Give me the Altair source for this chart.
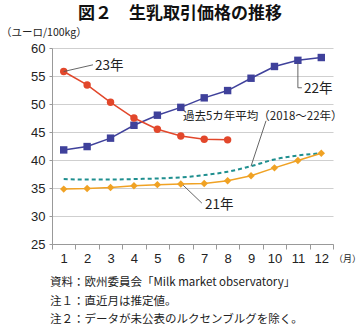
import altair as alt
import pandas as pd

months = list(range(1, 13))
y23 = [55.8, 53.4, 50.3, 47.5, 45.5, 44.3, 43.7, 43.6]
y22 = [41.8, 42.4, 43.9, 46.2, 48.0, 49.4, 51.1, 52.4, 54.6, 56.7, 57.8, 58.3]
y21 = [34.8, 34.9, 35.1, 35.4, 35.6, 35.7, 35.8, 36.3, 37.2, 38.6, 39.9, 41.2]
yavg = [36.6, 36.5, 36.5, 36.6, 36.7, 36.9, 37.3, 37.9, 38.9, 40.1, 40.8, 41.2]

FONT = "Liberation Sans, Noto Sans CJK JP, sans-serif"
JFONT = "Noto Sans CJK JP, Liberation Sans, sans-serif"

C23 = "#e2472b"
C22 = "#3f419b"
C21 = "#f0a224"
CAVG = "#1f8f8f"

W, H = 281, 196

df23 = pd.DataFrame({"m": months[:8], "v": y23})
df22 = pd.DataFrame({"m": months, "v": y22})
df21 = pd.DataFrame({"m": months, "v": y21})
dfavg = pd.DataFrame({"m": months, "v": yavg})

xscale = alt.Scale(domain=[0.5, 12.5], nice=False, zero=False)
yscale = alt.Scale(domain=[25, 60], nice=False, zero=False)

tick_vals = [i + 0.5 for i in range(0, 13)]
xaxis = alt.Axis(values=tick_vals, title=None, grid=False,
                 labelExpr="datum.value < 12 ? format(datum.value + 0.5, 'd') : ''",
                 labelOffset=W / 24, labelOverlap=False, labelFlush=False,
                 labelFont=FONT, labelFontSize=13, labelColor="#222",
                 tickColor="#999", tickSize=5, domainColor="#999", labelPadding=3)
yaxis = alt.Axis(values=[25, 30, 35, 40, 45, 50, 55, 60], title=None,
                 labelFont=FONT, labelFontSize=13, labelColor="#222",
                 gridColor="#cfcfcf", tickColor="#999", tickSize=3,
                 domainColor="#999", labelPadding=4)


def xs():
    return alt.X("m:Q", scale=xscale, axis=xaxis)


def ys():
    return alt.Y("v:Q", scale=yscale, axis=yaxis)


base = alt.Chart(dfavg).mark_line(color=CAVG, strokeDash=[4, 3], strokeWidth=2,
                                  interpolate="monotone").encode(x=xs(), y=ys())

l21 = alt.Chart(df21).mark_line(color=C21, strokeWidth=1.5).encode(x=xs(), y=ys())
p21 = alt.Chart(df21).mark_point(shape="diamond", filled=True, color=C21, size=55,
                                 opacity=1).encode(x=xs(), y=ys())
l22 = alt.Chart(df22).mark_line(color=C22, strokeWidth=1.5).encode(x=xs(), y=ys())
p22 = alt.Chart(df22).mark_point(shape="square", filled=True, color=C22, size=55,
                                 opacity=1).encode(x=xs(), y=ys())
l23 = alt.Chart(df23).mark_line(color=C23, strokeWidth=1.5).encode(x=xs(), y=ys())
p23 = alt.Chart(df23).mark_point(shape="circle", filled=True, color=C23, size=55,
                                 opacity=1).encode(x=xs(), y=ys())

# leader lines (data space)
lead_x = [1.0, 2.25, 11.0, 11.0, 11.0, 11.17, 9.64, 9.0, 6.1, 6.9]
lead_y = [55.8, 57.0, 57.3, 52.9, 52.9, 52.9, 47.0, 38.9, 35.5, 32.3]
lead_g = ["a", "a", "b", "b", "c", "c", "d", "d", "e", "e"]
dflead = pd.DataFrame({"m": lead_x, "v": lead_y, "g": lead_g,
                       "o": list(range(len(lead_x)))})
leads = alt.Chart(dflead).mark_line(color="#555", strokeWidth=0.9).encode(
    x=xs(), y=ys(), detail="g:N", order="o:Q")

lab_text = ["23年", "22年", "21年"]
lab_x = [2.34, 11.26, 7.03]
lab_y = [56.8, 52.7, 32.0]
dflab = pd.DataFrame({"m": lab_x, "v": lab_y, "t": lab_text})
labels = alt.Chart(dflab).mark_text(align="left", baseline="middle", font=JFONT,
                                    fontSize=13.5, color="#222").encode(
    x=xs(), y=ys(), text="t:N")

avg_lab = pd.DataFrame({"m": [6.09], "v": [47.7], "t": ["過去5カ年平均（2018～22年）"]})
avglabel = alt.Chart(avg_lab).mark_text(align="left", baseline="middle", font=JFONT,
                                        fontSize=11.5, color="#222").encode(
    x=xs(), y=ys(), text="t:N")

# titles and notes (outside plot area)
title_txt = "図２　生乳取引価格の推移"
unit_txt = "（ユーロ/100kg）"
month_txt = "（月）"
notes = ["資料：欧州委員会「Milk market observatory」",
         "注１：直近月は推定値。",
         "注２：データが未公表のルクセンブルグを除く。"]

one = pd.DataFrame({"a": [0]})
title = alt.Chart(one).mark_text(text=title_txt, font=JFONT, fontSize=17,
                                 fontWeight="bold", align="center", baseline="middle",
                                 color="#111").encode(x=alt.value(128), y=alt.value(-34))
unit = alt.Chart(one).mark_text(text=unit_txt, font=JFONT, fontSize=10.5,
                                align="left", baseline="middle",
                                color="#222").encode(x=alt.value(-51), y=alt.value(-15))
mlab = alt.Chart(one).mark_text(text=month_txt, font=JFONT, fontSize=9,
                                align="left", baseline="middle",
                                color="#222").encode(x=alt.value(282), y=alt.value(211))
note_layers = []
for i, n in enumerate(notes):
    note_layers.append(alt.Chart(one).mark_text(text=n, font=JFONT, fontSize=11.5,
                                                align="left", baseline="middle",
                                                color="#222").encode(
        x=alt.value(-2), y=alt.value(235 + 18.5 * i)))

chart = alt.layer(base, l21, p21, l22, p22, l23, p23, leads, labels, avglabel,
                  title, unit, mlab, *note_layers).properties(
    width=W, height=H,
    autosize=alt.AutoSizeParams(type="none"),
    padding={"left": 52, "top": 48, "right": 27, "bottom": 83},
    background="white",
).configure_view(stroke=None)

chart.save("out.html", embed_options={"renderer": "svg", "actions": False})
